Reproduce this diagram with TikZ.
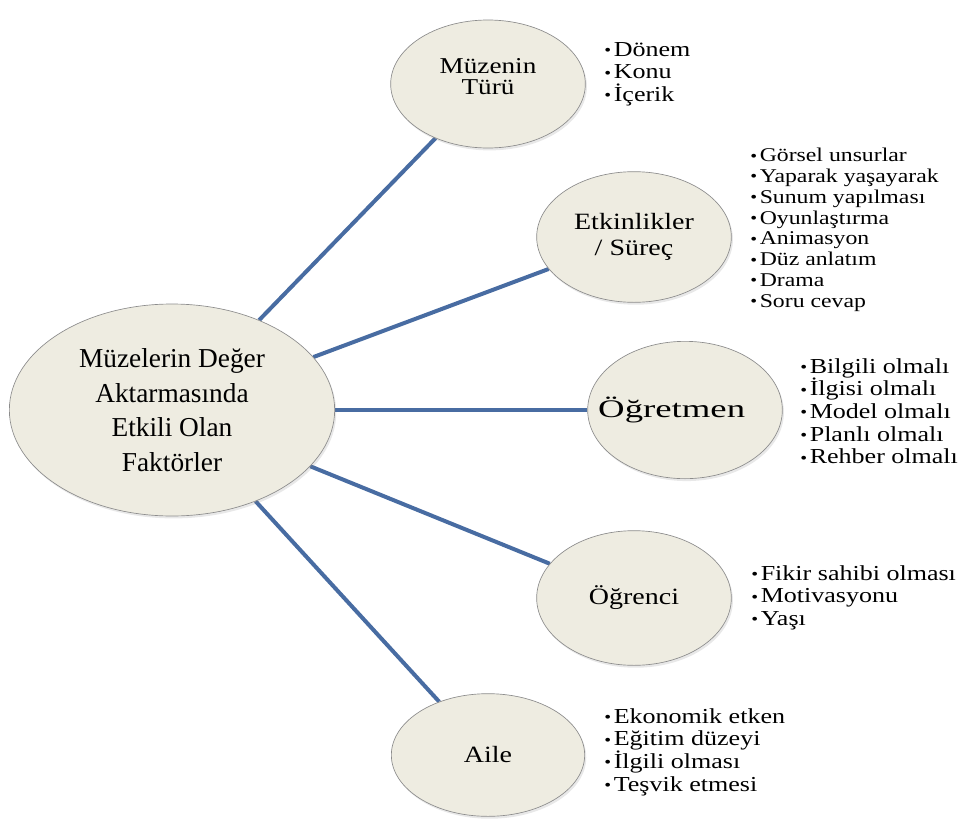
\documentclass[tikz,border=0pt]{standalone}
\usepackage{fontspec}
\setmainfont{Liberation Serif}
\newfontfamily\lblfont[FakeStretch=1.2]{Liberation Serif}
\newfontfamily\widefont[FakeStretch=1.45]{Liberation Serif}
\newfontfamily\lstfont[FakeStretch=1.22]{Liberation Serif}
\usetikzlibrary{shapes.geometric,shadows,backgrounds}

\definecolor{ovalfill}{RGB}{238,236,225}
\definecolor{linkblue}{RGB}{72,108,162}

\newcommand{\blt}{{\fontsize{12}{12}\selectfont\raisebox{0.5pt}{•}}\hspace{2pt}}

\begin{document}
\begin{tikzpicture}[x=0.75pt,y=-0.75pt]

  \tikzstyle{oval}=[ellipse,draw=black!45,line width=0.5pt,fill=ovalfill,inner sep=0pt,
    drop shadow={opacity=0.18,shadow xshift=1.2pt,shadow yshift=-1.8pt},align=center]
  \tikzstyle{link}=[draw=linkblue,line width=3pt]
  \tikzstyle{lst}=[align=left,inner sep=0pt,anchor=north west]

  \useasboundingbox (0,0) rectangle (963,828);

  \node (fak) [oval,minimum width=244pt,minimum height=159pt,
    font=\fontsize{20.5}{26}\selectfont] at (172,410)
    {Müzelerin Değer\\Aktarmasında\\Etkili Olan\\Faktörler};

  \node (tur) [oval,minimum width=146pt,minimum height=96pt,
    font=\lblfont\fontsize{17}{15.5}\selectfont] at (488,84) {Müzenin\\Türü\\[-4pt]};
  \node (etk) [oval,minimum width=146pt,minimum height=98pt,
    font=\lblfont\fontsize{17.5}{20}\selectfont] at (634,237) {Etkinlikler\\/ Süreç};
  \node (ogr) [oval,minimum width=146pt,minimum height=103pt,
    font=\widefont\fontsize{19}{20}\selectfont] at (685,410) {\kern-20pt Öğretmen};
  \node (ogc) [oval,minimum width=146pt,minimum height=101pt,
    font=\lblfont\fontsize{17.5}{20}\selectfont] at (634,598) {Öğrenci};
  \node (aile) [oval,minimum width=145pt,minimum height=92pt,
    font=\lblfont\fontsize{17.5}{20}\selectfont] at (488,755) {Aile};

  \begin{scope}[on background layer]
    \draw [link] (fak) -- (tur);
    \draw [link] (fak) -- (etk);
    \draw [link] (fak) -- (ogr);
    \draw [link] (fak) -- (ogc);
    \draw [link] (fak) -- (aile);
  \end{scope}

  % lists beside the ovals
  \node (turlst) [lst,font=\lstfont\fontsize{16}{17}\selectfont] at (604,42)
    {\blt Dönem\\\blt Konu\\\blt İçerik};
  \node (etklst) [lst,font=\lstfont\fontsize{14.6}{15.6}\selectfont] at (750,148)
    {\blt Görsel unsurlar\\\blt Yaparak yaşayarak\\\blt Sunum yapılması\\
     \blt Oyunlaştırma\\\blt Animasyon\\\blt Düz anlatım\\\blt Drama\\\blt Soru cevap};
  \node (ogrlst) [lst,font=\lstfont\fontsize{16}{17}\selectfont] at (800,358)
    {\blt Bilgili olmalı\\\blt İlgisi olmalı\\\blt Model olmalı\\
     \blt Planlı olmalı\\\blt Rehber olmalı};
  \node (ogclst) [lst,font=\lstfont\fontsize{16}{17}\selectfont] at (751,565)
    {\blt Fikir sahibi olması\\\blt Motivasyonu\\\blt Yaşı};
  \node (ailelst) [lst,font=\lstfont\fontsize{16}{17}\selectfont] at (604,708)
    {\blt Ekonomik etken\\\blt Eğitim düzeyi\\\blt İlgili olması\\\blt Teşvik etmesi};

\end{tikzpicture}
\end{document}
